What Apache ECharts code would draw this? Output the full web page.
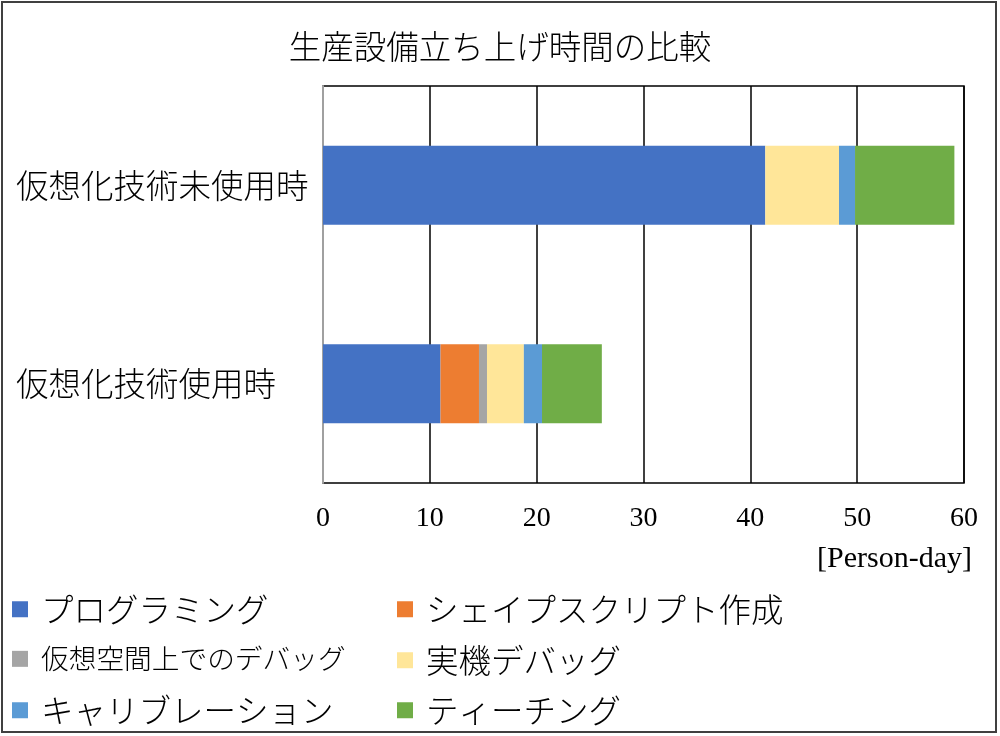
<!DOCTYPE html>
<html>
<head>
<meta charset="utf-8">
<script src="https://cdn.jsdelivr.net/npm/echarts@6/dist/echarts.min.js"></script>
<style>
html,body{margin:0;padding:0;background:#fff;}
#chart{width:1000px;height:736px;}
</style>
</head>
<body>
<div id="chart"></div>
<script>
// Categories (bottom to top as ECharts draws them)
var categories = ['仮想化技術使用時', '仮想化技術未使用時'];
var seriesNames = ['プログラミング', 'シェイプスクリプト作成', '仮想空間上でのデバッグ', '実機デバッグ', 'キャリブレーション', 'ティーチング'];
var programming   = [11.0, 41.4];
var shapeScript   = [3.6, 0];
var virtualDebug  = [0.75, 0];
var realDebug     = [3.45, 6.9];
var calibration   = [1.7, 1.5];
var teaching      = [5.6, 9.3];
var xTicks = [0, 10, 20, 30, 40, 50, 60];
var titleText = '生産設備立ち上げ時間の比較';
var unitText = '[Person-day]';

var seriesData = [programming, shapeScript, virtualDebug, realDebug, calibration, teaching];
var colors = ['#4472C4', '#ED7D31', '#A5A5A5', '#FFE699', '#5B9BD5', '#70AD47'];
var jp = '"Noto Sans CJK JP", "Noto Sans", sans-serif';
var serif = '"Liberation Serif", "DejaVu Serif", serif';

var chart = echarts.init(document.getElementById('chart'));

var legendPos = [
  {left: 12, top: 593, fs: 32.5},
  {left: 397, top: 593, fs: 32.5},
  {left: 12, top: 645, fs: 27.7},
  {left: 397, top: 644, fs: 32.5},
  {left: 12, top: 694, fs: 32.5},
  {left: 397, top: 694, fs: 32.5}
];
var legends = seriesNames.map(function (n, i) {
  var p = legendPos[i];
  return {
    data: [n], left: p.left, top: p.top, padding: 0,
    itemWidth: 16, itemHeight: 16, icon: 'rect', selectedMode: false,
    textStyle: {fontFamily: jp, fontSize: p.fs, color: '#000', padding: [0, 0, 0, 8], fontWeight: 300}
  };
});

chart.setOption({
  animation: false,
  color: colors,
  title: [
    {text: titleText, left: 'center', top: 30, padding: 0,
     textStyle: {fontFamily: jp, fontSize: 32.5, fontWeight: 300, color: '#000'}},
    {text: unitText, right: 28, top: 544, padding: 0,
     textStyle: {fontFamily: serif, fontSize: 30, fontWeight: 'normal', color: '#000'}}
  ],
  legend: legends,
  grid: {left: 323, right: 36, top: 86, bottom: 253, show: true, borderColor: '#000', borderWidth: 1.5, containLabel: false},
  xAxis: {
    type: 'value', min: 0, max: 60, interval: 10,
    axisLine: {show: false},
    axisTick: {show: false},
    splitLine: {show: true, lineStyle: {color: '#000', width: 1.5}},
    axisLabel: {fontFamily: serif, fontSize: 28, color: '#000', margin: 22,
      formatter: function (v) { return xTicks.indexOf(v) >= 0 ? String(v) : ''; }}
  },
  yAxis: {
    type: 'category', data: categories,
    axisLine: {show: true, lineStyle: {color: '#A0A0A0', width: 2}},
    axisTick: {show: false},
    axisLabel: {fontFamily: jp, fontSize: 32.5, fontWeight: 300, color: '#000', margin: 307, align: 'left'}
  },
  series: seriesNames.map(function (n, i) {
    return {
      name: n, type: 'bar', stack: 'total', barWidth: 79,
      data: seriesData[i],
      itemStyle: {color: colors[i]}
    };
  }),
  graphic: [{
    type: 'rect', shape: {x: 2, y: 2, width: 994, height: 730},
    style: {fill: 'none', stroke: '#404040', lineWidth: 2}, silent: true
  }]
});
</script>
</body>
</html>
